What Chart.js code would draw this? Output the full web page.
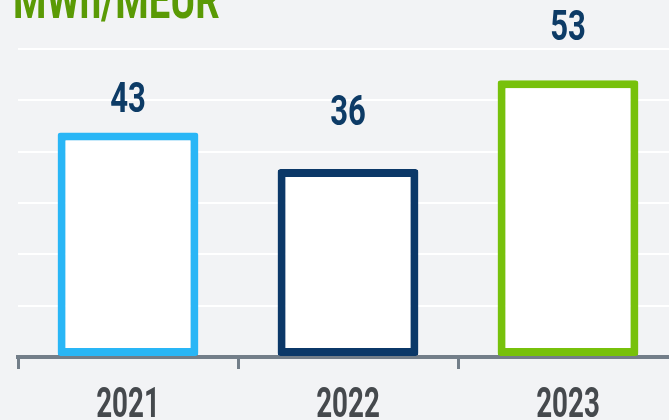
<!DOCTYPE html>
<html>
<head>
<meta charset="utf-8">
<script src="https://cdn.jsdelivr.net/npm/chart.js@4"></script>
<style>
  html, body { margin: 0; padding: 0; background: #f2f3f5; overflow: hidden; }
  #wrap { width: 680px; height: 420px; }
</style>
</head>
<body>
<div id="wrap"><canvas id="chart" width="680" height="420"></canvas></div>
<script>
// data
const titleText = 'MWh/MEUR';
const categories = ['2021', '2022', '2023'];
const values = [43, 36, 53];
const barColors = ['#29b6f6', '#0b3868', '#77c10b'];
// gap (px) between each value label and the top of its bar, as in the picture
const labelGaps = [21, 44, 40];

// draw condensed text (horizontally squeezed) like the original font
function drawNarrow(ctx, text, x, y, font, color, sx, align) {
    ctx.save();
    ctx.translate(x, y);
    ctx.scale(sx, 1);
    ctx.font = font;
    ctx.fillStyle = color;
    ctx.textAlign = align || 'center';
    ctx.textBaseline = 'alphabetic';
    ctx.fillText(text, 0, 0);
    ctx.restore();
}

const textPlugin = {
    id: 'texts',
    afterDraw(chart) {
        const ctx = chart.ctx;
        const meta = chart.getDatasetMeta(0);
        const xScale = chart.scales.x;

        // title, cut off at the top
        drawNarrow(ctx, titleText, 13, 18, 'bold 53px Roboto', '#5a9a05', 0.72, 'left');

        // values above bars
        meta.data.forEach((bar, i) => {
            drawNarrow(ctx, String(values[i]), bar.x, bar.y - labelGaps[i], 'bold 42px Roboto', '#0d3b66', 0.74);
        });

        // category labels
        categories.forEach((c, i) => {
            drawNarrow(ctx, c, xScale.getPixelForValue(i), 417, 'bold 42px Roboto', '#45494d', 0.66);
        });
    }
};

new Chart(document.getElementById('chart'), {
    type: 'bar',
    data: {
        labels: categories,
        datasets: [{
            data: values,
            backgroundColor: '#ffffff',
            borderColor: barColors,
            borderWidth: 8,
            borderRadius: 3,
            borderSkipped: false,
            categoryPercentage: 1,
            barPercentage: 0.64
        }]
    },
    options: {
        responsive: false,
        animation: false,
        layout: { padding: { left: 18, right: 2, top: 49, bottom: 51 } },
        plugins: {
            legend: { display: false },
            tooltip: { enabled: false }
        },
        scales: {
            x: {
                z: 1,
                ticks: { display: false },
                grid: {
                    display: true,
                    drawOnChartArea: false,
                    drawTicks: true,
                    tickLength: 12,
                    color: '#737e89',
                    lineWidth: 3
                },
                border: { display: true, color: '#737e89', width: 4 }
            },
            y: {
                min: 0,
                max: 59,
                ticks: { display: false, count: 7 },
                grid: {
                    drawTicks: false,
                    color: ctx => ctx.tick && ctx.tick.value === 0 ? 'rgba(0,0,0,0)' : '#ffffff',
                    lineWidth: 2
                },
                border: { display: false }
            }
        }
    },
    plugins: [textPlugin]
});
</script>
</body>
</html>
